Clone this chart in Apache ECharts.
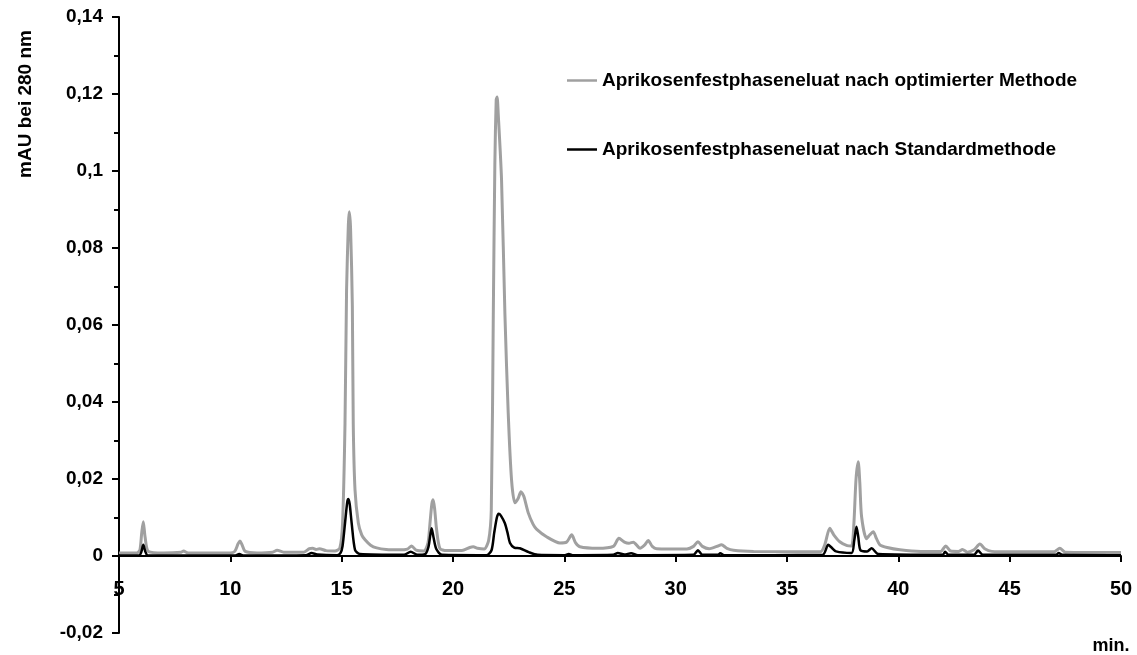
<!DOCTYPE html>
<html>
<head>
<meta charset="utf-8">
<script src="https://cdn.jsdelivr.net/npm/echarts@6/dist/echarts.min.js"></script>
<style>
html,body{margin:0;padding:0;background:#fff;}
#chart{width:1137px;height:655px;}
</style>
</head>
<body>
<div id="chart"></div>
<script>
// Retention times (min) and absorbance values
var optTimes = [5.0,5.8,5.94,6.02,6.09,6.17,6.32,7.0,7.8,7.9,8.1,10.0,10.2,10.35,10.43,10.52,10.67,11.2,11.9,12.1,12.4,13.3,13.55,13.7,13.85,14.0,14.3,14.7,14.92,15.04,15.15,15.22,15.30,15.34,15.40,15.48,15.52,15.6,15.75,15.9,16.05,16.3,16.57,17.0,17.6,17.95,18.14,18.35,18.7,18.88,18.96,19.05,19.11,19.18,19.26,19.41,19.7,20.4,20.75,20.91,21.1,21.4,21.6,21.72,21.81,21.88,21.94,21.98,22.03,22.18,22.33,22.48,22.63,22.78,22.93,23.05,23.18,23.38,23.6,23.75,24.2,24.8,25.1,25.33,25.5,25.7,26.5,27.2,27.45,27.7,27.9,28.1,28.4,28.6,28.77,28.95,29.15,30.5,30.8,31.0,31.2,31.5,31.85,32.06,32.3,32.6,33.5,36.5,36.7,36.92,37.1,37.37,37.7,37.9,38.0,38.1,38.2,38.27,38.35,38.57,38.72,38.87,39.02,39.17,39.5,40.07,41.0,41.9,42.13,42.35,42.7,42.88,43.1,43.4,43.66,43.9,44.2,45.0,47.0,47.25,47.5,50.0];
var optValues = [0.0008,0.0008,0.0016,0.0060,0.0089,0.0050,0.0012,0.0008,0.0010,0.0013,0.0008,0.0008,0.0012,0.0032,0.0039,0.0030,0.0012,0.0008,0.0010,0.0015,0.0010,0.0010,0.0019,0.0020,0.0017,0.0019,0.0014,0.0013,0.0021,0.0085,0.0345,0.069,0.086,0.0894,0.085,0.0648,0.0345,0.0171,0.0085,0.0055,0.0042,0.0028,0.0021,0.0017,0.0016,0.0018,0.0026,0.0015,0.0013,0.0035,0.0081,0.0135,0.0146,0.0120,0.0070,0.0020,0.0014,0.0014,0.0022,0.0024,0.0020,0.0018,0.0040,0.0120,0.063,0.102,0.1185,0.1192,0.115,0.0977,0.0631,0.0371,0.0197,0.0138,0.0150,0.0167,0.0155,0.0112,0.0082,0.0070,0.0050,0.0034,0.0036,0.0055,0.0035,0.0024,0.0020,0.0025,0.0046,0.0036,0.0033,0.0036,0.0020,0.0028,0.0040,0.0025,0.0019,0.0018,0.0025,0.0037,0.0025,0.0019,0.0025,0.0029,0.0020,0.0015,0.0012,0.0011,0.0030,0.0072,0.0055,0.0037,0.0027,0.0026,0.0080,0.0200,0.0245,0.0190,0.0102,0.0045,0.0055,0.0063,0.0045,0.0029,0.0022,0.0016,0.0012,0.0012,0.0026,0.0013,0.0012,0.0017,0.0010,0.0016,0.0031,0.0018,0.0012,0.0011,0.0011,0.0020,0.0010,0.0009];

var stdTimes = [5.0,5.9,6.0,6.09,6.18,6.3,10.2,10.4,10.6,13.4,13.65,13.9,14.8,14.95,15.04,15.15,15.25,15.3,15.36,15.45,15.6,15.82,17.8,18.1,18.4,18.75,18.9,19.04,19.12,19.25,19.5,21.5,21.73,21.85,21.97,22.05,22.15,22.33,22.45,22.56,22.75,23.0,23.4,23.8,25.0,25.2,25.4,27.2,27.4,27.7,28.0,28.3,30.8,31.0,31.2,31.9,32.0,32.2,36.6,36.85,37.0,37.2,37.9,38.02,38.12,38.2,38.3,38.6,38.8,39.1,42.0,42.1,42.25,43.4,43.58,43.8,47.1,47.2,47.35,50.0];
var stdValues = [0.0001,0.0001,0.0010,0.0029,0.0012,0.0001,0.0001,0.0005,0.0001,0.0002,0.0008,0.0004,0.0002,0.0008,0.0026,0.0085,0.0140,0.0148,0.0135,0.0085,0.0016,0.0005,0.0003,0.0011,0.0003,0.0005,0.0024,0.0072,0.0050,0.0018,0.0003,0.0002,0.0015,0.0060,0.0100,0.0110,0.0105,0.0085,0.0060,0.0034,0.0022,0.0020,0.0010,0.0003,0.0002,0.0005,0.0002,0.0003,0.0008,0.0004,0.0007,0.0002,0.0003,0.0015,0.0003,0.0003,0.0007,0.0002,0.0003,0.0029,0.0022,0.0012,0.0008,0.0040,0.0076,0.0050,0.0015,0.0012,0.0020,0.0005,0.0003,0.0011,0.0003,0.0003,0.0014,0.0003,0.0003,0.0008,0.0003,0.0002];

var seriesNames = ['Aprikosenfestphaseneluat nach optimierter Methode','Aprikosenfestphaseneluat nach Standardmethode'];
var yAxisTitle = 'mAU bei 280 nm';
var xAxisTitle = 'min.';

function zip(a, b) { return a.map(function (t, i) { return [t, b[i]]; }); }

var FONT = "'Liberation Sans', Arial, sans-serif";
var chart = echarts.init(document.getElementById('chart'), null, {renderer: 'canvas'});
chart.setOption({
  animation: false,
  backgroundColor: '#fff',
  grid: {left: 119, right: 16, top: 17, bottom: 22, containLabel: false, outerBoundsMode: 'none'},
  legend: {
    orient: 'vertical', left: 562, top: 66, itemGap: 50,
    icon: 'rect', itemWidth: 30, itemHeight: 2.5,
    textStyle: {fontFamily: FONT, fontWeight: 'bold', fontSize: 19, color: '#000'},
    data: seriesNames
  },
  xAxis: {
    type: 'value', min: 5, max: 50, interval: 5,
    axisLine: {onZero: true, lineStyle: {color: '#000', width: 2}},
    axisTick: {show: true, length: 6, lineStyle: {color: '#000', width: 2}},
    axisLabel: {margin: -54, fontFamily: FONT, fontWeight: 'bold', fontSize: 20, color: '#000'},
    splitLine: {show: false}
  },
  yAxis: {
    type: 'value', min: -0.02, max: 0.14, interval: 0.02,
    axisLine: {show: true, lineStyle: {color: '#000', width: 2}},
    axisTick: {show: true, length: 7, lineStyle: {color: '#000', width: 2}},
    minorTick: {show: true, splitNumber: 2, length: 5, lineStyle: {color: '#000', width: 2}},
    axisLabel: {margin: 16, fontFamily: FONT, fontWeight: 'bold', fontSize: 19, color: '#000',
      formatter: function (v) { return String(parseFloat(v.toFixed(3))).replace('.', ','); }},
    splitLine: {show: false}
  },
  graphic: [
    {type: 'text', x: 26, y: 104, rotation: Math.PI / 2,
     style: {text: yAxisTitle, font: 'bold 19px ' + FONT, fill: '#000', align: 'center', verticalAlign: 'middle'}},
    {type: 'text', x: 1111, y: 646,
     style: {text: xAxisTitle, font: 'bold 18px ' + FONT, fill: '#000', align: 'center', verticalAlign: 'middle'}}
  ],
  series: [
    {name: seriesNames[0], type: 'line', data: zip(optTimes, optValues), symbol: 'none',
     smooth: 0.25, lineStyle: {color: '#a0a0a0', width: 3}, itemStyle: {color: '#a0a0a0'}},
    {name: seriesNames[1], type: 'line', data: zip(stdTimes, stdValues), symbol: 'none',
     smooth: 0.25, lineStyle: {color: '#000', width: 2.5}, itemStyle: {color: '#000'}}
  ]
});
</script>
</body>
</html>
